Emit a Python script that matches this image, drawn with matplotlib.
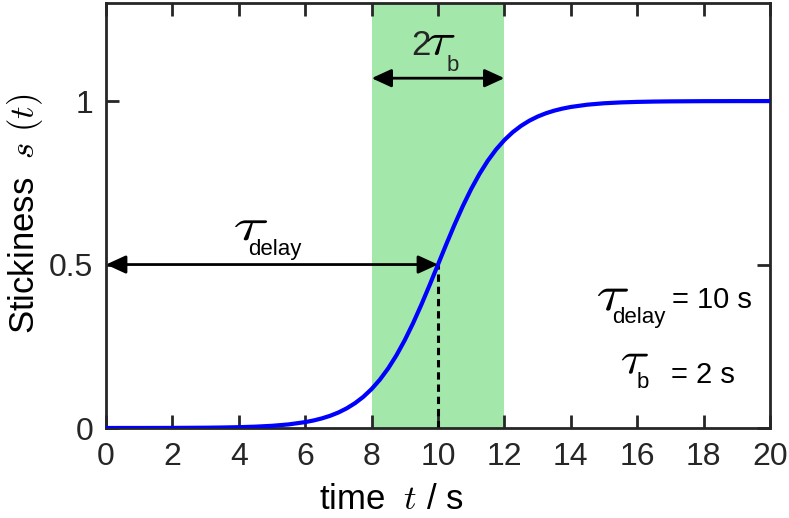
import numpy as np
import matplotlib; matplotlib.use("Agg")
import matplotlib.pyplot as plt
from matplotlib.textpath import TextPath
from matplotlib.patches import PathPatch
from matplotlib.transforms import Affine2D

plt.rcParams.update({"font.family": "Liberation Sans", "mathtext.fontset": "cm",
                     "axes.linewidth": 2.0, "axes.edgecolor": "#262626",
                     "xtick.color": "#262626", "ytick.color": "#262626"})

# stickiness curve s(t), sampled
t = [0, 0.5, 1, 1.5, 2, 2.5, 3, 3.5, 4, 4.5, 5, 5.5, 6, 6.25, 6.5, 6.75, 7, 7.25, 7.5, 7.75,
     8, 8.25, 8.5, 8.75, 9, 9.25, 9.5, 9.75, 10, 10.25, 10.5, 10.75, 11, 11.25, 11.5, 11.75,
     12, 12.25, 12.5, 12.75, 13, 13.25, 13.5, 13.75, 14, 14.5, 15, 15.5, 16, 16.5, 17, 17.5,
     18, 18.5, 19, 19.5, 20]
s = [0.0000, 0.0001, 0.0001, 0.0002, 0.0003, 0.0006, 0.0009, 0.0015, 0.0025, 0.0041, 0.0067,
     0.0110, 0.0180, 0.0230, 0.0293, 0.0373, 0.0474, 0.0601, 0.0759, 0.0953,
     0.1192, 0.1480, 0.1824, 0.2227, 0.2689, 0.3208, 0.3775, 0.4378, 0.5000, 0.5622, 0.6225,
     0.6792, 0.7311, 0.7773, 0.8176, 0.8520, 0.8808, 0.9047, 0.9241, 0.9399, 0.9526, 0.9627,
     0.9707, 0.9770, 0.9820, 0.9890, 0.9933, 0.9959, 0.9975, 0.9985, 0.9991, 0.9994,
     0.9997, 0.9998, 0.9999, 0.9999, 1.0000]
t_delay = 10
t_b = 2

fig = plt.figure(figsize=(7.89, 5.18), dpi=100)
ax = fig.add_axes([106/789, 90/518, 664/789, 425/518])

ax.axvspan(t_delay - t_b, t_delay + t_b, color="#a3e8aa", lw=0, zorder=0)
ax.plot(t, s, color="#0000ff", lw=3.0, zorder=3, solid_capstyle="butt")
ax.plot([t_delay, t_delay], [0, 0.5], ls=(0, (2.4, 1.6)), color="k", lw=2.2, zorder=2)

arw = dict(arrowstyle="<|-|>,head_length=1.2,head_width=0.55", color="k", lw=2.0,
           shrinkA=0, shrinkB=0, mutation_scale=10)
ax.annotate("", xy=(0, 0.5), xytext=(t_delay, 0.5), arrowprops=arw, annotation_clip=False)
ax.annotate("", xy=(t_delay - t_b, 1.07), xytext=(t_delay + t_b, 1.07), arrowprops=arw)

ax.set_xlim(0, 20)
ax.set_ylim(0, 1.3)
ax.set_xticks(np.arange(0, 21, 2))
ax.set_yticks([0, 0.5, 1])
ax.set_yticklabels(["0", "0.5", "1"])
ax.tick_params(direction="in", length=9.5, width=2.0, labelsize=23, top=True, right=True)
ax.tick_params(axis="x", pad=10)
ax.tick_params(axis="y", pad=9)

ax.set_xlabel(r"time  $t$ / s", fontsize=25)
ax.xaxis.label.set_verticalalignment("baseline")
ax.xaxis.set_label_coords(0.429, -0.19)
ax.set_ylabel(r"Stickiness  $s\ (t)$", fontsize=25)
ax.yaxis.label.set_verticalalignment("center")
ax.yaxis.set_label_coords(-0.122, 0.505)

# italic tau drawn as a path, widened to the look of the labels (w, h in pixels)
tau_path = TextPath((0, 0), r"$\tau$", size=100)
ext = tau_path.get_extents()

def tau(x, y, w=30, h=21):
    px, py = ax.transData.transform((x, y))
    tr = (Affine2D().translate(-(ext.x0 + ext.x1) / 2, -ext.y0)
          .scale(w / ext.width, h / ext.height).translate(px, py))
    ax.add_patch(PathPatch(tau_path, transform=tr, fc="k", ec="none", zorder=4))

sub = dict(fontsize=16, ha="left", va="baseline")
val = dict(fontsize=21, ha="left", va="baseline")

# tau_delay over the long arrow
tau(4.37, 0.574, 32, 20)
ax.text(4.28, 0.528, "delay", **sub)
# 2 tau_b over the band
ax.text(9.18, 1.141, "2", fontsize=25, ha="left", va="baseline", color="#262626")
tau(10.09, 1.141, 27, 20)
ax.text(10.27, 1.092, "b", color="#262626", **sub)
# parameter values
tau(15.27, 0.359, 30, 22)
ax.text(15.24, 0.322, "delay", **sub)
ax.text(17.05, 0.368, "= %d s" % t_delay, **val)
tau(15.93, 0.166, 26, 20)
ax.text(15.99, 0.123, "b", **sub)
ax.text(17.02, 0.138, "= %d s" % t_b, **val)

fig.savefig("out.png", dpi=100)
